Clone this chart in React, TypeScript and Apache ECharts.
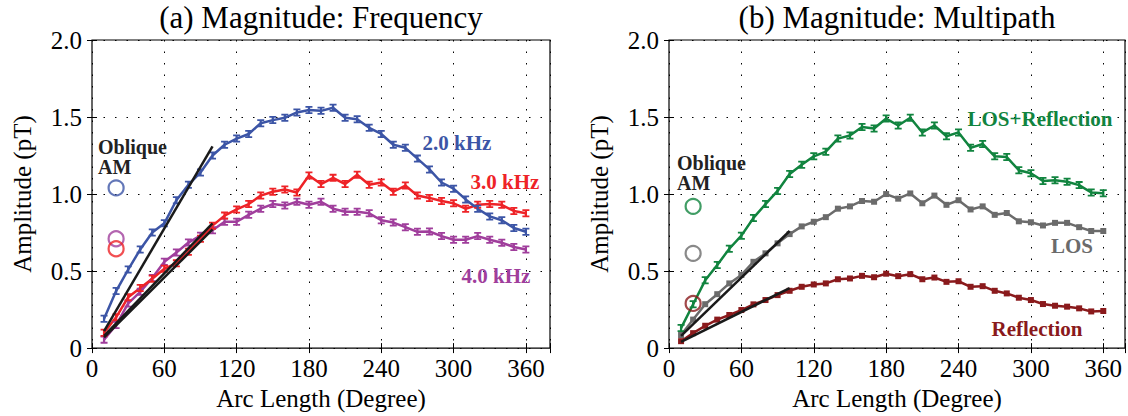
import React, { useEffect, useRef } from "react";
import * as echarts from "echarts";

const arcDeg = [10, 20, 30, 40, 50, 60, 70, 80, 90, 100, 110, 120, 130, 140, 150, 160, 170, 180,
  190, 200, 210, 220, 230, 240, 250, 260, 270, 280, 290, 300, 310, 320, 330, 340, 350, 360];

const freq2k = [0.19, 0.37, 0.51, 0.64, 0.75, 0.81, 0.96, 1.06, 1.14, 1.25, 1.32, 1.36, 1.39, 1.46, 1.48, 1.495, 1.53, 1.545,
  1.54, 1.56, 1.495, 1.485, 1.43, 1.39, 1.32, 1.3, 1.23, 1.16, 1.075, 1.035, 0.965, 0.905, 0.855, 0.83, 0.78, 0.755];
const freq3k = [0.1, 0.2, 0.33, 0.39, 0.45, 0.515, 0.55, 0.625, 0.71, 0.795, 0.86, 0.9, 0.935, 0.99, 1.015, 1.03, 1.01, 1.12,
  1.065, 1.105, 1.065, 1.125, 1.06, 1.075, 1.015, 1.055, 0.99, 0.975, 0.955, 0.94, 0.905, 0.93, 0.935, 0.93, 0.89, 0.875];
const freq4k = [0.055, 0.15, 0.29, 0.365, 0.455, 0.56, 0.62, 0.685, 0.73, 0.765, 0.82, 0.82, 0.865, 0.905, 0.935, 0.925, 0.95, 0.93,
  0.95, 0.905, 0.885, 0.885, 0.875, 0.83, 0.815, 0.785, 0.755, 0.757, 0.727, 0.703, 0.703, 0.727, 0.703, 0.684, 0.656, 0.64];

const losRefl = [0.13, 0.285, 0.44, 0.54, 0.645, 0.73, 0.845, 0.935, 1.02, 1.13, 1.19, 1.245, 1.275, 1.36, 1.38, 1.435, 1.425, 1.49,
  1.445, 1.495, 1.4, 1.445, 1.375, 1.4, 1.3, 1.325, 1.245, 1.24, 1.155, 1.135, 1.085, 1.09, 1.08, 1.058, 1.01, 1.005];
const losOnly = [0.085, 0.185, 0.285, 0.35, 0.42, 0.475, 0.56, 0.615, 0.68, 0.74, 0.79, 0.82, 0.85, 0.905, 0.92, 0.955, 0.95, 1.0,
  0.97, 1.004, 0.94, 0.99, 0.93, 0.96, 0.9, 0.92, 0.865, 0.877, 0.823, 0.817, 0.796, 0.813, 0.813, 0.785, 0.76, 0.76];
const reflOnly = [0.045, 0.097, 0.145, 0.185, 0.215, 0.247, 0.284, 0.312, 0.344, 0.372, 0.398, 0.413, 0.42, 0.447, 0.452, 0.469, 0.46, 0.483,
  0.467, 0.48, 0.447, 0.458, 0.43, 0.434, 0.398, 0.402, 0.372, 0.355, 0.327, 0.312, 0.286, 0.275, 0.269, 0.258, 0.238, 0.241];

// Oblique AM reference values (at arc 20 degrees)
const obliqueArc = 20;
const obliqueFreq = [1.04, 0.71, 0.645]; // 2k, 4k, 3k
const obliqueMulti = [0.92, 0.615, 0.29]; // LOS+Refl, LOS, Refl

// Linear fit segments [x0, y0, x1, y1]
const fitFreq = [
  [10, 0.11, 100, 1.31],
  [10, 0.08, 100, 0.81],
  [10, 0.07, 100, 0.77],
];
const fitMulti = [
  [10, 0.08, 100, 0.76],
  [10, 0.04, 100, 0.39],
];

const xTicks = [0, 60, 120, 180, 240, 300, 360];
const yTicks = [0, 0.5, 1.0, 1.5, 2.0];

const C_BLUE = "#3c55a6";
const C_RED = "#ee2327";
const C_PURPLE = "#a03e9c";
const C_GREEN = "#11843f";
const C_GRAY = "#6b6b6b";
const C_DRED = "#8a1a1c";
const FONT = '"Liberation Serif", "Times New Roman", serif';

const IBEAM = "path://M0,0H10V2.2H6.6V7.8H10V10H0V7.8H3.4V2.2H0Z";

export default function App() {
  const ref = useRef<HTMLDivElement>(null);
  useEffect(() => {
    document.body.style.margin = "0";
    const chart = echarts.init(ref.current!, undefined, { renderer: "svg" });

    const pair = (ys: number[]) => arcDeg.map((x, i) => [x, ys[i]]);

    const grids = [
      { left: 92, top: 40, width: 458, height: 311 },
      { left: 669, top: 40, width: 456, height: 311 },
    ];
    const xMax = [380, 378];

    const xAxes: any[] = [];
    const yAxes: any[] = [];
    [0, 1].forEach((g) => {
      xAxes.push({
        type: "value", gridIndex: g, min: 0, max: xMax[g], interval: 60, position: "bottom",
        axisLine: { show: false },
        axisTick: { show: true, inside: true, length: 5, lineStyle: { color: "#000" } },
        axisLabel: {
          color: "#000", fontFamily: FONT, fontSize: 25, margin: 8,
          formatter: (v: number) => (xTicks.indexOf(v) >= 0 ? String(v) : ""),
        },
        splitLine: { show: true, lineStyle: { color: "#000", width: 1, type: [1.5, 10] } },
        name: "Arc Length (Degree)", nameLocation: "middle", nameGap: 36,
        nameTextStyle: { color: "#000", fontFamily: FONT, fontSize: 25 },
      });
      xAxes.push({
        type: "value", gridIndex: g, min: 0, max: xMax[g], interval: 60, position: "top",
        axisLine: { show: false },
        axisTick: { show: true, inside: true, length: 5, lineStyle: { color: "#000" } },
        axisLabel: { show: false }, splitLine: { show: false },
      });
      yAxes.push({
        type: "value", gridIndex: g, min: 0, max: 2, interval: 0.5, position: "left",
        axisLine: { show: false },
        axisTick: { show: true, inside: true, length: 5, lineStyle: { color: "#000" } },
        axisLabel: {
          color: "#000", fontFamily: FONT, fontSize: 25, margin: 10,
          formatter: (v: number) => (v === 0 ? "0" : v.toFixed(1)),
        },
        splitLine: { show: true, lineStyle: { color: "#000", width: 1, type: [1.5, 10] } },
        name: "Amplitude (pT)", nameLocation: "middle", nameGap: 57,
        nameTextStyle: { color: "#000", fontFamily: FONT, fontSize: 25 },
      });
      yAxes.push({
        type: "value", gridIndex: g, min: 0, max: 2, interval: 0.5, position: "right",
        axisLine: { show: false },
        axisTick: { show: true, inside: true, length: 5, lineStyle: { color: "#000" } },
        axisLabel: { show: false }, splitLine: { show: false },
      });
    });

    const dataLine = (ys: number[], color: string, g: number, symbol: string, size: any) => ({
      type: "line", xAxisIndex: g * 2, yAxisIndex: g * 2, data: pair(ys),
      symbol, symbolSize: size, showSymbol: true,
      lineStyle: { color, width: 2.5 }, itemStyle: { color },
      z: 3,
    });
    const fitLine = (seg: number[], g: number) => ({
      type: "line", xAxisIndex: g * 2, yAxisIndex: g * 2,
      data: [[seg[0], seg[1]], [seg[2], seg[3]]], symbol: "none",
      lineStyle: { color: "#1a1a1a", width: 2.5 }, z: 4,
    });
    const circle = (y: number, color: string, g: number) => ({
      type: "scatter", xAxisIndex: g * 2, yAxisIndex: g * 2,
      data: [[obliqueArc, y]], symbol: "circle", symbolSize: 15,
      itemStyle: { color: "rgba(0,0,0,0)", borderColor: color, borderWidth: 2.2 }, z: 5,
    });

    const series: any[] = [
      dataLine(freq4k, C_PURPLE, 0, IBEAM, [7, 8]),
      dataLine(freq3k, C_RED, 0, IBEAM, [7, 8]),
      dataLine(freq2k, C_BLUE, 0, IBEAM, [7, 8]),
      ...fitFreq.map((s) => fitLine(s, 0)),
      circle(obliqueFreq[0], C_BLUE, 0),
      circle(obliqueFreq[1], C_PURPLE, 0),
      circle(obliqueFreq[2], C_RED, 0),
      dataLine(reflOnly, C_DRED, 1, "rect", 6),
      dataLine(losOnly, C_GRAY, 1, "rect", 6),
      dataLine(losRefl, C_GREEN, 1, IBEAM, [7, 8]),
      ...fitMulti.map((s) => fitLine(s, 1)),
      circle(obliqueMulti[0], C_GREEN, 1),
      circle(obliqueMulti[1], C_GRAY, 1),
      circle(obliqueMulti[2], C_DRED, 1),
    ];

    const txt = (text: string, x: number, y: number, color: string, size: number, bold: boolean, align = "center") => ({
      type: "text", x, y, z: 10,
      style: {
        text, fill: color, fontFamily: FONT, fontSize: size,
        fontWeight: bold ? "bold" : "normal", align, verticalAlign: "middle",
      },
    });

    chart.setOption({
      animation: false,
      backgroundColor: "#fff",
      grid: grids.map((g) => ({ ...g, show: true, borderColor: "#000", borderWidth: 1.2, containLabel: false })),
      xAxis: xAxes,
      yAxis: yAxes,
      series,
      graphic: [
        txt("(a) Magnitude: Frequency", 321, 17, "#000", 31, false),
        txt("(b) Magnitude: Multipath", 897, 17, "#000", 31, false),
        txt("Oblique", 98, 147, "#222", 20, true, "left"),
        txt("AM", 98, 167, "#222", 20, true, "left"),
        txt("Oblique", 677, 163, "#222", 20, true, "left"),
        txt("AM", 677, 183, "#222", 20, true, "left"),
        txt("2.0 kHz", 457, 143, C_BLUE, 21, true),
        txt("3.0 kHz", 505, 182, C_RED, 21, true),
        txt("4.0 kHz", 496, 276, C_PURPLE, 21, true),
        txt("LOS+Reflection", 1040, 119, C_GREEN, 21, true),
        txt("LOS", 1072, 246, C_GRAY, 21, true),
        txt("Reflection", 1037, 329, C_DRED, 21, true),
      ],
    });
    return () => chart.dispose();
  }, []);
  return <div ref={ref} style={{ width: 1128, height: 416 }} />;
}
